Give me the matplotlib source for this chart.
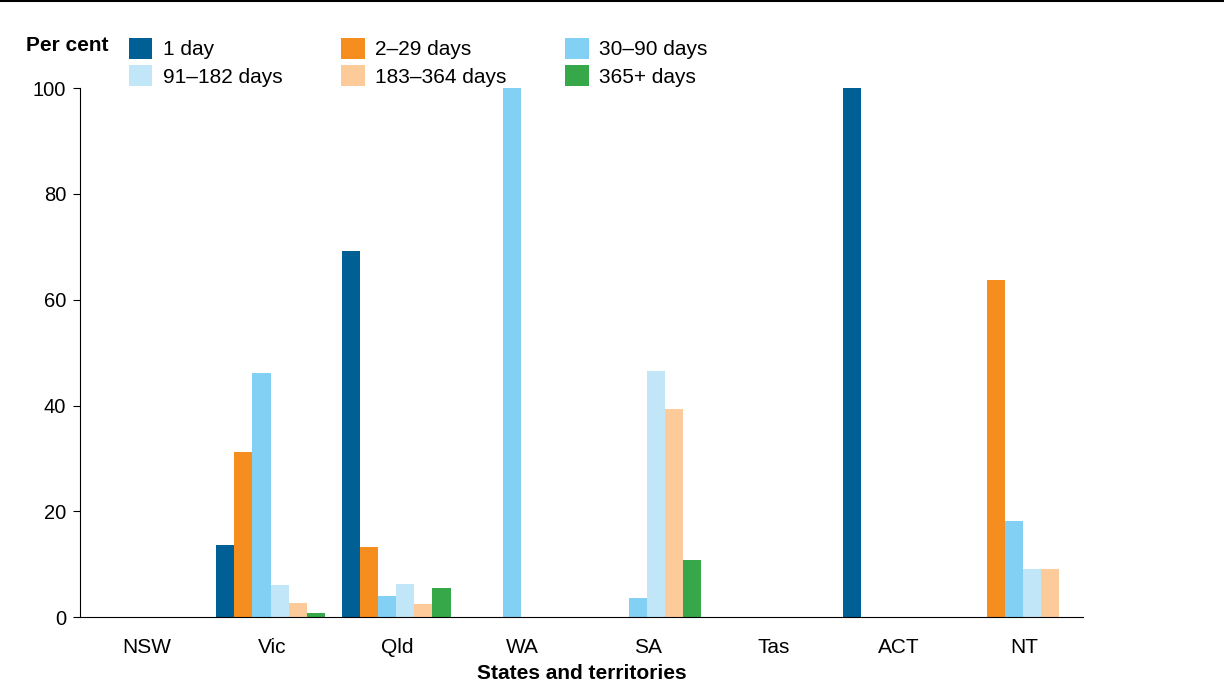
import matplotlib.pyplot as plt
from matplotlib.lines import Line2D
import numpy as np

plt.rcParams['font.family'] = ['Liberation Sans', 'DejaVu Sans']

# states / territories
states = ['NSW', 'Vic', 'Qld', 'WA', 'SA', 'Tas', 'ACT', 'NT']

# per cent by length of stay
day_1 = [0, 13.6, 69.2, 0, 0, 0, 100, 0]
days_2_29 = [0, 31.2, 13.2, 0, 0, 0, 0, 63.7]
days_30_90 = [0, 46.1, 4.0, 100, 3.6, 0, 0, 18.1]
days_91_182 = [0, 6.0, 6.2, 0, 46.5, 0, 0, 9.1]
days_183_364 = [0, 2.6, 2.5, 0, 39.3, 0, 0, 9.1]
days_365 = [0, 0.7, 5.5, 0, 10.8, 0, 0, 0]

labels = ['1 day', '2–29 days', '30–90 days', '91–182 days', '183–364 days', '365+ days']
colors = ['#005f94', '#f58d1f', '#83d0f5', '#c1e6f8', '#fdca99', '#37a849']
series = [day_1, days_2_29, days_30_90, days_91_182, days_183_364, days_365]

fig = plt.figure(figsize=(12.24, 6.88), dpi=100)
ax = fig.add_axes([0.0654, 0.103, 0.8196, 0.769])

x = np.arange(len(states))
w = 0.145
bars = []
for i, (vals, c, lab) in enumerate(zip(series, colors, labels)):
    b = ax.bar(x + 0.02 + (i - 2.5) * w, vals, width=w, color=c, label=lab)
    bars.append(b)

ax.set_xlim(-0.5, 7.5)
ax.set_ylim(0, 100)
ax.set_xticks(x + 0.03)
ax.set_xticklabels(states, fontsize=15)
ax.set_yticks([0, 20, 40, 60, 80, 100])
ax.tick_params(axis='y', labelsize=14.5, length=5, direction='out', pad=5)
ax.tick_params(axis='x', length=0, pad=15)
for s in ['top', 'right']:
    ax.spines[s].set_visible(False)
ax.set_xlabel('States and territories', fontsize=15, fontweight='bold', labelpad=5)

fig.text(0.021, 0.926, 'Per cent', fontsize=15, fontweight='bold')

order = [0, 3, 1, 4, 2, 5]
fig.legend([bars[i] for i in order], [labels[i] for i in order], ncol=3,
           loc='upper left', bbox_to_anchor=(0.105, 0.945), frameon=False,
           fontsize=15, handlelength=1.15, handleheight=1.15, handletextpad=0.5,
           columnspacing=2.8, labelspacing=0.3, borderaxespad=0, borderpad=0)

fig.add_artist(Line2D([0, 1], [0.999, 0.999], color='black', lw=1.5))

plt.savefig('out.png')
